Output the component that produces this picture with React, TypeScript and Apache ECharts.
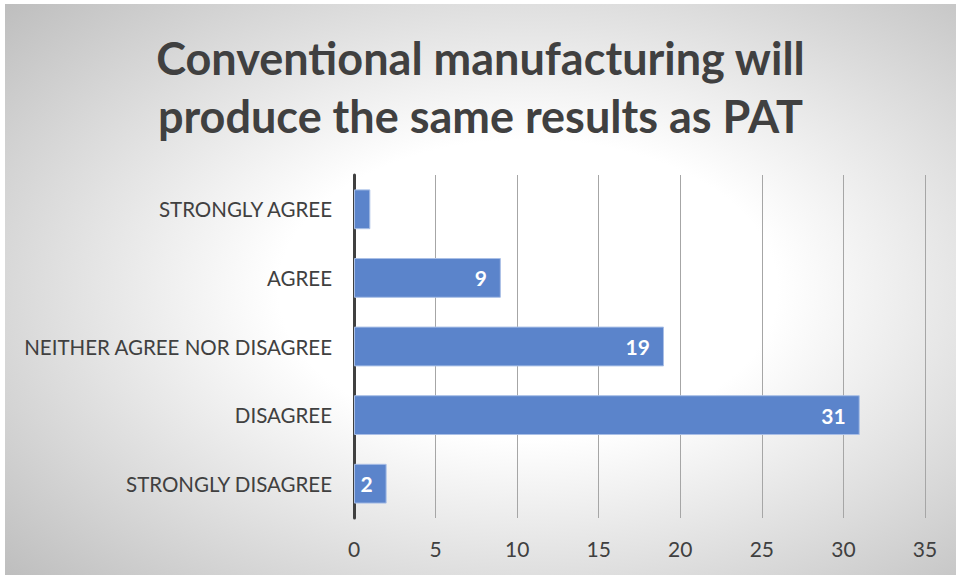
import React, { useEffect, useRef } from "react";
import * as echarts from "echarts";

const titleLines = ["Conventional manufacturing will", "produce the same results as PAT"];
const categories = ["STRONGLY DISAGREE", "DISAGREE", "NEITHER AGREE NOR DISAGREE", "AGREE", "STRONGLY AGREE"];
const values = [2, 31, 19, 9, 1];
const hiddenLabels = ["STRONGLY AGREE"];
const axisMin = 0;
const axisMax = 35;
const axisStep = 5;

export default function App() {
  const ref = useRef<HTMLDivElement>(null);
  useEffect(() => {
    if (!ref.current) return;
    const chart = echarts.init(ref.current, undefined, { renderer: "svg" });
    chart.setOption({
      animation: false,
      backgroundColor: {
        type: "radial",
        x: 0.55,
        y: 0.5,
        r: 0.75,
        colorStops: [
          { offset: 0, color: "#ffffff" },
          { offset: 0.35, color: "#ffffff" },
          { offset: 1, color: "#bdbdbd" },
        ],
      },
      title: {
        text: titleLines.join("\n"),
        left: "center",
        top: 20,
        textStyle: {
          fontFamily: "Lato",
          fontWeight: "bold",
          fontSize: 45,
          lineHeight: 58,
          color: "#404040",
        },
      },
      grid: { left: 349, right: 31, top: 171, bottom: 57, containLabel: false },
      xAxis: {
        type: "value",
        min: axisMin,
        max: axisMax,
        interval: axisStep,
        axisLine: { show: false },
        axisTick: { show: false },
        splitLine: { show: true, lineStyle: { color: "#a6a6a6", width: 1 } },
        axisLabel: { color: "#404040", fontFamily: "Lato", fontSize: 21, margin: 20 },
      },
      yAxis: {
        type: "category",
        data: categories,
        axisLine: { show: true, lineStyle: { color: "#404040", width: 3 } },
        axisTick: { show: false },
        axisLabel: { color: "#404040", fontFamily: "Lato", fontSize: 20.5, margin: 22 },
      },
      series: [
        {
          type: "bar",
          data: values.map((v, i) => ({
            value: v,
            label: { show: !hiddenLabels.includes(categories[i]) },
          })),
          barCategoryGap: "42%",
          itemStyle: { color: "#5b84cb", borderColor: "#a9bfe6", borderWidth: 1 },
          label: {
            show: true,
            position: "insideRight",
            distance: 14,
            color: "#ffffff",
            fontFamily: "Lato",
            fontWeight: "bold",
            fontSize: 21,
          },
        },
      ],
    });
    return () => chart.dispose();
  }, []);
  return (
    <div style={{ position: "absolute", left: 0, top: 0, width: 956, height: 578, background: "#ffffff" }}>
      <div
        ref={ref}
        style={{
          position: "absolute",
          left: 5,
          top: 4,
          width: 951,
          height: 571,
        }}
      />
    </div>
  );
}
